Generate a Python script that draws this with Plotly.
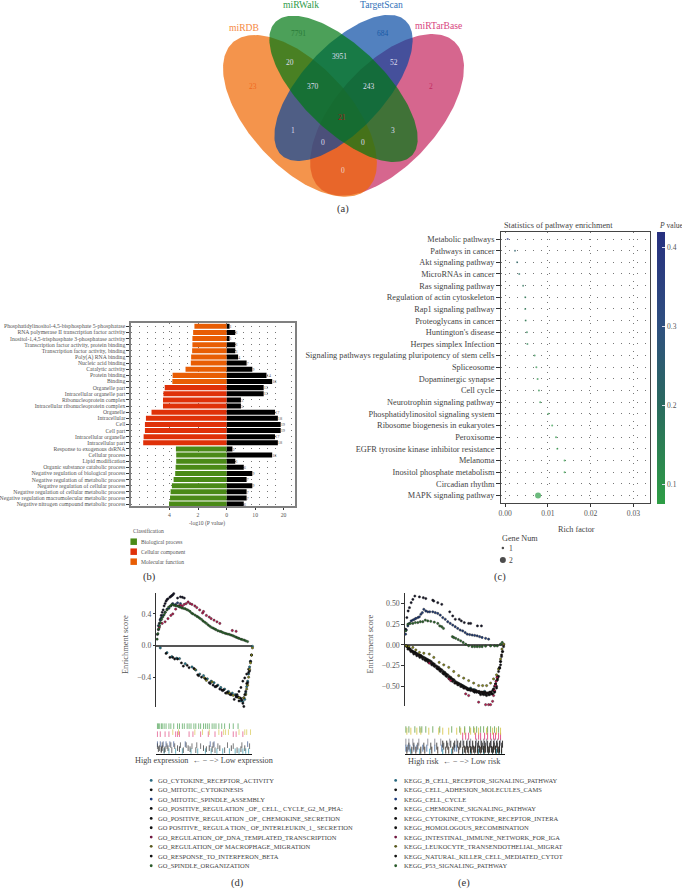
import numpy as np
import plotly.graph_objects as go

W, H = 682, 890
SERIF = "Liberation Serif"

# ---------- (a) Venn ----------
venn_names = ["miRDB", "miRWalk", "TargetScan", "miRTarBase"]
venn_counts = ["23", "7791", "684", "2", "20", "3951", "52", "370", "243", "21", "1", "3", "0", "0", "0"]

# ---------- (b) GO bars ----------
go_terms = [
    "Phosphatidylinositol-4,5-bisphosphate 5-phosphatase", "RNA polymerase II transcription factor activity",
    "Inositol-1,4,5-trisphosphate 3-phosphatase activity", "Transcription factor activity, protein binding",
    "Transcription factor activity, binding", "Poly(A) RNA binding", "Nucleic acid binding", "Catalytic activity",
    "Protein binding", "Binding", "Organelle part", "Intracellular organelle part", "Ribonucleoprotein complex",
    "Intracellular ribonucleoprotein complex", "Organelle", "Intracellular", "Cell", "Cell part",
    "Intracellular organelle", "Intracellular part", "Response to exogenous dsRNA", "Cellular process",
    "Lipid modification", "Organic substance catabolic process", "Negative regulation of biological process",
    "Negative regulation of metabolic process", "Negative regulation of cellular process",
    "Negative regulation of cellular metabolic process", "Negative regulation macromolecular metabolic process",
    "Negative nitrogen compound metabolic process"]
go_class = ["Molecular function"] * 10 + ["Cellular component"] * 10 + ["Biological process"] * 10
go_logp = [2.25, 2.34, 2.39, 2.39, 2.41, 2.48, 2.50, 2.87, 3.77, 3.79,
           4.32, 4.41, 4.44, 4.44, 5.24, 5.63, 5.70, 5.70, 5.79, 5.82,
           3.54, 3.52, 3.52, 3.56, 3.59, 3.70, 3.82, 3.91, 3.95, 4.02]
go_genes = [1, 3, 1, 3, 3, 4, 7, 9, 14, 16, 13, 13, 5, 5, 17, 18, 19, 19, 17, 18, 2, 16, 3, 6, 9, 7, 9, 7, 7, 6]
class_names = ["Biological process", "Cellular component", "Molecular function"]
class_colors = ["#4a8a17", "#df3109", "#e85d04"]

# ---------- (c) KEGG dots ----------
path_terms = ["Metabolic pathways", "Pathways in cancer", "Akt signaling pathway", "MicroRNAs in cancer",
              "Ras signaling pathway", "Regulation of actin cytoskeleton", "Rap1 signaling pathway",
              "Proteoglycans in cancer", "Huntington's disease", "Herpes simplex Infection",
              "Signaling pathways regulating pluripotency of stem cells", "Spliceosome", "Dopaminergic synapse",
              "Cell cycle", "Neurotrophin signaling pathway", "Phosphatidylinositol signaling system",
              "Ribosome biogenesis in eukaryotes", "Peroxisome", "EGFR tyrosine kinase inhibitor resistance",
              "Melanoma", "Inositol phosphate metabolism", "Circadian rhythm", "MAPK signaling pathway"]
path_rich = [0.0006, 0.0023, 0.0028, 0.0033, 0.0042, 0.0047, 0.0047, 0.0048, 0.0051, 0.0052, 0.0069, 0.0073,
             0.0076, 0.0079, 0.0082, 0.0101, 0.0110, 0.0119, 0.0122, 0.0139, 0.0139, None, 0.0077]
path_p = [0.40, 0.24, 0.22, 0.20, 0.18, 0.16, 0.16, 0.15, 0.15, 0.14, 0.12, 0.11, 0.11, 0.11, 0.10, 0.09, 0.09,
          0.09, 0.09, 0.08, 0.08, 0.08, 0.08]
path_genes = [1] * 22 + [2]

# ---------- (d) GSEA GO ----------
d_names = ["GO_CYTOKINE_RECEPTOR_ACTIVITY", "GO_MITOTIC_CYTOKINESIS", "GO_MITOTIC_SPINDLE_ASSEMBLY",
           "GO_POSITIVE_REGULATION _OF_ CELL_ CYCLE_G2_M_PHA:", "GO_POSITIVE_REGULATION _OF_ CHEMOKINE_SECRETION",
           "GO POSITIVE_ REGULA TION_ OF_INTERLEUKIN_1_ SECRETION", "GO_REGULATION_OF_DNA_TEMPLATED_TRANSCRIPTION",
           "GO_REGULATION_OF MACROPHAGE_MIGRATION", "GO_RESPONSE_TO_INTERFERON_BETA", "GO_SPINDLE_ORGANIZATION"]
d_colors = ["#1f7f95", "#141428", "#1d3a78", "#0e0e14", "#101018", "#0c1020", "#c01850", "#8a8a18", "#0c0c0c", "#2a6a2a"]
d_rank = [
    [4, 11, 16, 21, 24, 30, 37, 41, 45, 49, 53, 57, 60, 64, 67, 71, 75, 79, 82, 85, 88, 90, 92, 93, 94, 95, 96, 97, 98, 99, 100],
    [1, 2, 3, 4, 5, 6, 7, 8, 9, 10, 11, 12, 14, 15, 16, 17, 18, 22, 25, 27, 29],
    [2, 4, 5, 7, 9, 11, 13, 15, 17, 20, 22, 25],
    [10, 14, 19, 28, 34, 44, 47, 55, 62, 68, 72, 77, 81, 83, 85, 86, 90, 91],
    [84, 86, 88, 90, 92, 94, 96, 98],
    [56, 59, 61, 66, 69, 73, 76, 78, 87, 89, 91, 93, 95, 97, 99],
    [3, 6, 9, 12, 15, 17, 20, 23, 25, 27, 29, 31, 33, 35, 37, 40, 42, 45, 48, 49, 52, 55, 57, 60, 63, 66, 79, 83],
    [40, 50, 52, 58, 74, 76, 80, 86, 91, 93, 94, 95, 96, 97, 98, 99, 100],
    [17, 22, 26, 32, 39, 43, 51, 63, 70, 74, 83, 88, 92, 94, 96],
    [0.7, 1.5, 2.4, 3.2, 4.1, 5.3, 6.5, 8, 9.2, 11, 12.7, 14.5, 16.1, 18, 19.5, 21, 22.9, 24.5, 26.4, 28, 29.8, 31.5, 33.2, 35, 36.6,
     38, 40.1, 42, 43.5, 45, 46.9, 48.5, 50.3, 52, 53.8, 55.5, 57.2, 59, 60.6, 62, 64, 66, 67.5, 69, 70.9, 72.5, 74.3, 76, 77.7, 79.5,
     81.2, 83, 84.6, 86, 88, 89.5, 91.4, 93, 94.9]]
d_es = [
    [-.03, -.09, -.14, -.16, -.165, -.23, -.27, -.31, -.36, -.38, -.42, -.45, -.47, -.50, -.53, -.55, -.58, -.60, -.62, -.65, -.70, -.71, -.68, -.60, -.52, -.45, -.36, -.27, -.20, -.12, -.01],
    [.14, .20, .28, .33, .38, .42, .45, .50, .53, .56, .58, .59, .61, .62, .63, .64, .655, .60, .615, .61, .60],
    [.25, .32, .35, .38, .42, .46, .47, .50, .53, .52, .54, .53],
    [-.10, -.15, -.17, -.26, -.28, -.38, -.40, -.47, -.52, -.56, -.60, -.62, -.68, -.65, -.65, -.70, -.73, -.77],
    [-.62, -.58, -.53, -.45, -.41, -.36, -.30, -.20],
    [-.48, -.50, -.52, -.55, -.57, -.60, -.61, -.62, -.66, -.69, -.66, -.58, -.47, -.32, -.12],
    [.23, .28, .30, .34, .38, .40, .46, .50, .51, .50, .52, .53, .55, .53, .52, .50, .48, .45, .41, .43, .38, .36, .34, .32, .30, .28, .19, .18],
    [-.30, -.41, -.44, -.46, -.60, -.60, -.63, -.66, -.66, -.62, -.55, -.50, -.40, -.30, -.22, -.12, -.03],
    [-.15, -.17, -.22, -.25, -.29, -.37, -.42, -.51, -.56, -.59, -.63, -.67, -.62, -.48, -.34],
    [.08, .15, .21, .25, .29, .33, .36, .39, .42, .45, .485, .50, .52, .51, .505, .50, .495, .485, .475, .47, .465, .455, .445, .43, .41,
     .40, .385, .37, .36, .345, .33, .31, .295, .28, .26, .245, .23, .22, .21, .20, .187, .18, .175, .165, .157, .15, .145, .14, .132, .125,
     .115, .105, .098, .09, .08, .075, .068, .06, .05]]
d_rug_row = [752, 750, 745, 749, 751, 747, 735, 733, 746, 727]
d_rug_hits = [
    [8, 13, 20, 27, 36, 43, 51, 57, 63, 69, 76, 82, 86, 90, 93, 96],
    [2, 5, 9, 24, 35, 52, 58, 88],
    [1, 4, 7, 10, 14, 18, 30, 56, 60, 95],
    [3, 6, 12, 22, 33, 49, 55, 66, 78, 92],
    [5, 8, 16, 28, 41, 61, 71, 84],
    [1, 11, 19, 37, 46, 64, 80, 97],
    [1, 4, 9, 13, 20, 22, 24, 34, 38, 46, 54, 61, 68, 80, 83, 90],
    [17, 23, 40, 48, 55, 65, 70, 72, 75, 86, 92, 94, 98],
    [6, 15, 25, 31, 42, 59, 74, 89],
    [1, 2, 3, 5, 6, 8, 10, 13, 15, 18, 22, 24, 27, 29, 32, 34, 36, 39, 41, 44, 46, 49, 51, 53, 55, 58, 60, 62, 65, 68, 71, 76, 80, 85]]

# ---------- (e) GSEA KEGG ----------
e_names = ["KEGG_B_CELL_RECEPTOR_SIGNALING_PATHWAY", "KEGG_CELL_ADHESION_MOLECULES_CAMS", "KEGG_CELL_CYCLE",
           "KEGG_CHEMOKINE_SIGNALING_PATHWAY", "KEGG_CYTOKINE_CYTOKINE_RECEPTOR_INTERA", "KEGG_HOMOLOGOUS_RECOMBINATION",
           "KEGG_INTESTINAL_IMMUNE_NETWORK_FOR_IGA", "KEGG_LEUKOCYTE_TRANSENDOTHELIAL_MIGRAT",
           "KEGG_NATURAL_KILLER_CELL_MEDIATED_CYTOT", "KEGG_P53_SIGNALING_PATHWAY"]
e_colors = ["#1f7f95", "#141414", "#1d3a78", "#0e0e14", "#1a1010", "#141428", "#c01850", "#8a8a18", "#0c0c0c", "#2a6a2a"]
e_rank = [
    [39.4, 54, 57.6, 74, 80, 49, 66, 70],
    [1, 2.5, 4, 5.5, 7, 8.5, 10, 11.5, 13, 14.5, 16, 17.5, 19, 20.5, 22, 23.5, 25, 26.5, 28, 29.5, 31, 32.5, 34, 35.5, 37, 38.5, 40, 41.5, 43, 44.5,
     46, 47.5, 49, 50.5, 52, 53.5, 55, 56.5, 58, 59.5, 61, 62.5, 64, 65.5, 67, 68.5, 70, 71.5, 73, 74.5, 76, 77.5, 79, 80.5, 82, 83.5, 85, 86.5, 88, 89, 90, 91, 92, 93, 94, 95, 96, 97, 98, 99],
    [.7, 1.5, 3, 4.5, 6.3, 8, 9.6, 11, 13, 14.5, 16, 17.5, 19, 21, 23, 25, 28, 30.5, 33, 35.5, 38, 40.5, 43, 45.5, 48, 50.5, 53, 55.5, 58, 60.5, 62.6, 65, 67.5, 70, 72.5, 75, 77.5, 81, 84],
    [3, 6, 9, 12, 15, 18, 21, 24, 27, 30, 33, 36, 39, 42, 45, 48, 51, 54, 57, 60, 63, 66, 69, 72, 75, 78, 81, 84, 87, 90, 92, 94, 96],
    [2, 5, 8, 11, 14, 17, 20, 23, 26, 29, 32, 35, 38, 41, 44, 47, 50, 53, 56, 59, 62, 65, 68, 71, 74, 77, 80, 83, 86, 89, 91, 93, 95, 97],
    [.7, 2, 3.3, 4.6, 6.3, 8, 10, 14.6, 18.5, 21, 28, 29, 33, 37, 45, 48, 50.6, 54.6, 56.6, 59.6, 64, 66, 72.8, 76.8],
    [24.5, 44.4, 46, 61, 64, 74, 81, 84, 86, 88, 89, 90, 90.7, 91.5, 92.4],
    [1.3, 4, 8, 11, 14.6, 19, 24.5, 29, 34.4, 39, 44, 49, 54, 59, 64, 69, 74, 78, 82, 86, 89, 92, 94, 96, 97.4, 99.3],
    [4, 7, 10, 16, 22, 28, 34, 40, 46, 52, 58, 64, 70, 76, 79, 82, 85, 88, 90, 92, 93, 95, 96, 98],
    [.7, 3, 5.5, 8, 10.5, 13, 15.5, 18, 20.5, 23, 26, 29.5, 33, 35, 37, 38.7, 47.7, 49, 51, 53.5, 56, 58.5, 61, 64, 67.5, 70, 72.5, 75, 77.5, 81, 86, 90, 92.7, 96, 97.7]]
e_es = [
    [-.35, -.47, -.49, -.57, -.56, -.42, -.52, -.54],
    [-.01, -.02, -.04, -.05, -.07, -.08, -.09, -.10, -.11, -.12, -.13, -.14, -.15, -.16, -.17, -.18, -.19, -.20, -.22, -.23, -.25, -.26, -.27, -.29, -.30, -.32, -.33, -.35, -.36, -.38,
     -.39, -.41, -.42, -.44, -.45, -.46, -.47, -.48, -.49, -.50, -.51, -.52, -.53, -.53, -.54, -.54, -.55, -.55, -.56, -.56, -.57, -.57, -.57, -.57, -.58, -.58, -.57, -.57, -.55, -.54, -.50, -.47, -.43, -.38, -.32, -.27, -.20, -.14, -.08, -.02],
    [.13, .18, .23, .26, .29, .30, .31, .32, .33, .34, .37, .39, .43, .41, .40, .40, .40, .39, .38, .36, .33, .31, .28, .26, .24, .22, .20, .18, .17, .15, .13, .125, .12, .115, .11, .10, .09, .08, .07],
    [-.05, -.08, -.11, -.13, -.15, -.17, -.19, -.21, -.24, -.26, -.29, -.32, -.35, -.38, -.41, -.44, -.46, -.48, -.50, -.52, -.54, -.55, -.56, -.57, -.58, -.59, -.60, -.60, -.59, -.56, -.50, -.38, -.24],
    [-.02, -.06, -.09, -.11, -.13, -.15, -.18, -.20, -.22, -.25, -.28, -.31, -.34, -.37, -.40, -.43, -.46, -.48, -.50, -.52, -.53, -.54, -.55, -.56, -.57, -.57, -.58, -.58, -.57, -.53, -.47, -.40, -.28, -.12],
    [.19, .33, .41, .45, .51, .55, .59, .58, .57, .56, .54, .53, .51, .49, .40, .35, .31, .31, .29, .27, .26, .26, .23, .23],
    [-.22, -.41, -.43, -.59, -.61, -.69, -.72, -.72, -.72, -.68, -.61, -.55, -.49, -.44, -.39],
    [-.01, -.02, -.03, -.06, -.09, -.10, -.11, -.15, -.21, -.24, -.27, -.32, -.37, -.40, -.43, -.46, -.49, -.49, -.49, -.46, -.41, -.36, -.29, -.17, -.05, .01],
    [-.04, -.07, -.09, -.13, -.18, -.23, -.29, -.34, -.40, -.46, -.50, -.54, -.57, -.60, -.60, -.61, -.60, -.59, -.57, -.52, -.42, -.28, -.20, -.08],
    [.17, .25, .26, .26, .27, .27, .28, .28, .30, .29, .285, .275, .26, .23, .22, .20, .10, .09, .08, .065, .05, .03, .01, -.01, -.02, -.02, -.02, -.02, -.02, -.015, -.012, -.012, -.012, .01, .03]]
e_rug_row = [753, 750, 749, 745, 751, 743, 737, 732, 747, 730]
e_rug_hits = [
    [6, 15, 25, 38, 47, 58, 66, 74, 79, 84, 88, 92, 95, 97],
    [60, 63, 66, 69, 71, 73, 75, 77, 79, 81, 83, 85, 87, 89, 91, 93, 95, 97],
    [1, 3, 5, 9, 12, 18, 22, 30, 37, 50, 52],
    [38, 42, 46, 50, 53, 56, 59, 62, 65, 68, 71, 74, 77, 80, 83, 86, 89, 92, 95, 98],
    [2, 7, 11, 16, 20, 27, 33, 41, 44, 48, 54, 58, 61, 64, 67, 70, 73, 76, 80, 84, 88, 91, 94, 97],
    [1, 4, 8, 14, 23, 30, 36, 45, 52, 58, 63, 66, 72, 76, 79, 82, 87, 90, 93, 96],
    [58, 61, 64, 71, 74, 76, 80, 83, 86, 89, 91, 94, 96],
    [2, 6, 12, 16, 24, 34, 38, 44, 52, 56, 60, 66, 70, 74, 82, 88, 92, 96],
    [4, 9, 13, 19, 26, 32, 39, 43, 49, 55, 62, 68, 73, 78, 81, 85, 90, 93, 97],
    [1, 4, 10, 15, 17, 21, 28, 35, 47, 55, 60, 65, 69, 72, 76, 79, 83, 86, 90, 94]]

# ---------- layout helpers (pixel geometry of the page) ----------
def fx(a, b): return [a / W, b / W]
def fy(top, bottom): return [1 - bottom / H, 1 - top / H]

def ellipse(cx, cy, a, b, deg):
    t = np.linspace(0, 2 * np.pi, 200)
    th = np.radians(deg)
    return cx + a * np.cos(t) * np.cos(th) - b * np.sin(t) * np.sin(th), cy + a * np.cos(t) * np.sin(th) + b * np.sin(t) * np.cos(th)

fig = go.Figure()
annos = []
def txt(x, y, s, size=8, color="#444", anchor="center", angle=0):
    annos.append(dict(x=x, y=y, xref="x", yref="y", text=s, showarrow=False, xanchor=anchor, yanchor="middle",
                      font=dict(family=SERIF, size=size, color=color), textangle=angle))

# ---- Venn on page axes (drawn pink, orange, blue, green)
venn_shape = [("rgba(207,75,122,0.85)", 384, 115, 100, 51, -47),
              ("rgba(240,102,0,0.70)", 296, 116, 100, 51, 47),
              ("rgba(0,70,160,0.68)", 340, 88, 92, 42, -47),
              ("rgba(0,119,19,0.70)", 340, 89, 96, 42, 44)]
for col, cx, cy, a, b, deg in venn_shape:
    ex, ey = ellipse(cx, cy, a, b, deg)
    fig.add_trace(go.Scatter(x=ex, y=ey, mode="lines", fill="toself", fillcolor=col, line=dict(width=0), hoverinfo="skip"))

for name, x, y, c in zip(venn_names, [239, 297, 378, 436], [28, 4, 4, 26], ["#f5893f", "#2f9a48", "#3070b8", "#d8447e"]):
    txt(x, y, name, 9.6, c)
count_pos = [(249, 87, "#f06a20"), (295, 34, "#2a7a38"), (380, 34, "#1a5aa5"), (428, 87, "#c22b62"), (286, 63, "#dde"),
             (336, 57, "#dde"), (391, 63, "#dde"), (309, 87, "#dde"), (366, 87, "#dde"), (338, 118, "#a81c1c"),
             (289, 131, "#dde"), (390, 131, "#dde"), (319, 143, "#dde"), (360, 143, "#dde"), (339, 171, "#f2d8c8")]
for s, (x, y, c) in zip(venn_counts, count_pos):
    txt(x, y, s, 7.5, c)
for s, x, y in [("(a)", 339, 209), ("(b)", 144, 578), ("(c)", 498, 578), ("(d)", 233, 884), ("(e)", 462, 884)]:
    txt(x, y, s, 10.5, "#333")

# ---- (b) bars
for cn, cc in zip(class_names, class_colors):
    idx = [i for i, c in enumerate(go_class) if c == cn]
    fig.add_trace(go.Bar(x=[go_logp[i] for i in idx], y=[go_terms[i] for i in idx], orientation="h", marker=dict(color=cc, line=dict(width=0)),
                         width=0.82, xaxis="x2", yaxis="y2"))
fig.add_trace(go.Bar(x=go_genes, y=go_terms, orientation="h", marker=dict(color="#000", line=dict(width=0)), width=0.82,
                     text=go_genes, textposition="outside", cliponaxis=False, textfont=dict(family=SERIF, size=5.2, color="#555"),
                     xaxis="x3", yaxis="y2"))
txt(202, 524.5, "-log10 (P value)", 5.6, "#555")
txt(125, 532, "Classification", 5.6, "#555", "left")
legy = [542.3, 552.3, 562.3]
fig.add_trace(go.Scatter(x=[128] * 3, y=legy, mode="markers", marker=dict(symbol="square", size=6.5, color=class_colors, line=dict(width=0))))
for n, y in zip(class_names, legy):
    txt(133, y, n, 5.6, "#555", "left")

# ---- (c) dots
stops = [[0, "#2e9e45"], [0.36, "#2a6a5e"], [0.66, "#2f4f80"], [1, "#27307f"]]
fig.add_trace(go.Scatter(x=path_rich, y=path_terms, mode="markers", xaxis="x4", yaxis="y4",
                         marker=dict(size=[2 if g == 1 else 6 for g in path_genes], color=path_p, colorscale=stops, cmin=0.075, cmax=0.42,
                                     line=dict(width=0),
                                     colorbar=dict(x=657 / W, xanchor="left", xpad=0, y=1 - 232 / H, yanchor="top", ypad=0, lenmode="pixels", len=272,
                                                   thickness=8, outlinewidth=0, tickvals=[0.1, 0.2, 0.3, 0.4], ticks="inside", ticklen=3, tickcolor="#dde",
                                                   tickfont=dict(family=SERIF, size=7.5, color="#555")))))
txt(500, 226, "Statistics of pathway enrichment", 8.3, "#444", "left")
annos.append(dict(x=657, y=226, xref="x", yref="y", text="<i>P</i> value", showarrow=False, xanchor="left", yanchor="middle",
                  font=dict(family=SERIF, size=7.6, color="#444")))
txt(575, 530, "Rich factor", 8.2, "#444")
txt(498, 539, "Gene Num", 8.2, "#444", "left")
fig.add_trace(go.Scatter(x=[501, 501], y=[548.7, 560.7], mode="markers", marker=dict(color="#000", size=[2.5, 6], line=dict(width=0))))
txt(505, 548.7, "1", 7.6, "#444", "left")
txt(505.5, 560.7, "2", 7.6, "#444", "left")

# ---- (d),(e) enrichment curves and rugs
def curves(ranks, es, colors, xa, ya, size):
    for r, v, c in zip(ranks, es, colors):
        fig.add_trace(go.Scatter(x=r, y=v, mode="markers", xaxis=xa, yaxis=ya, cliponaxis=False,
                                 marker=dict(size=size, color=c, line=dict(width=0.4, color="#111"))))
def rugs(hits, rows, colors, xa, ya, size, width):
    for h, r, c in zip(hits, rows, colors):
        fig.add_trace(go.Scatter(x=h, y=[r] * len(h), mode="markers", xaxis=xa, yaxis=ya,
                                 marker=dict(symbol="line-ns", size=size, line=dict(width=width, color=c))))

curves(d_rank, d_es, d_colors, "x5", "y5", 2.3)
rugs(d_rug_hits, d_rug_row, ["#2a8fa5", "#222", "#33508a", "#222", "#333", "#444", "#e04880", "#d8c850", "#444", "#4aa050"], "x6", "y6", 4, 0.7)
curves(e_rank, e_es, e_colors, "x7", "y7", 2.3)
rugs(e_rug_hits, e_rug_row, ["#2a8fa5", "#111", "#4a70a5", "#222", "#3a2a20", "#8a8a95", "#e04880", "#d8c850", "#444", "#70a860"], "x8", "y8", 5, 0.9)

txt(120, 645, "Enrichment score", 8.4, "#555", angle=-90)
txt(367, 645, "Enrichment score", 8.4, "#555", angle=-90)
txt(199.5, 761, "High expression  \u2190 \u2212 \u2212> Low expression", 8.2, "#444")
txt(452, 762, "High risk  \u2190 \u2212 \u2212> Low risk", 8.2, "#444")

list_y = [781.3, 790.7, 800, 809.3, 819.3, 828.7, 838, 847.3, 857, 866.7]
list_dot_d = ["#2a6a80", "#111", "#1d3a78", "#111", "#111", "#111", "#701840", "#5a5a20", "#111", "#2a5a2a"]
fig.add_trace(go.Scatter(x=[145.7] * 10, y=list_y, mode="markers", marker=dict(size=2.8, color=list_dot_d, line=dict(width=0))))
fig.add_trace(go.Scatter(x=[392.7] * 10, y=list_y, mode="markers", marker=dict(size=2.8, color=list_dot_d, line=dict(width=0))))
for n, y in zip(d_names, list_y):
    txt(150.7, y, n, 6.5, "#444", "left")
for n, y in zip(e_names, list_y):
    txt(398.7, y, n, 6.5, "#444", "left")

hidden = dict(visible=False, showgrid=False, zeroline=False)
grid_b = dict(showgrid=True, griddash="1px,7px", gridcolor="#777", gridwidth=1)
line_b = dict(showline=True, linecolor="#808080", linewidth=1.5, mirror=True, ticks="outside", ticklen=2.5, tickcolor="#333", tickwidth=1,
              tickfont=dict(family=SERIF, size=5.7, color="#555"), zeroline=False)
fig.update_layout(
    width=W, height=H, margin=dict(l=0, r=0, t=0, b=0), paper_bgcolor="white", plot_bgcolor="rgba(0,0,0,0)",
    showlegend=False, barmode="overlay", annotations=annos, hovermode=False,
    xaxis=dict(domain=[0, 1], range=[0, W], **hidden), yaxis=dict(domain=[0, 1], range=[H, 0], **hidden),
    xaxis2=dict(domain=fx(125, 291), range=[6.69, -4.76], anchor="y2", tickvals=[4, 2, 0], **line_b, **grid_b),
    xaxis3=dict(domain=fx(125, 291), range=[-33.8, 24.04], anchor="y2", overlaying="x2", side="bottom", tickvals=[10, 20], **line_b),
    yaxis2=dict(domain=fy(323.5, 506.7), range=[29.33, -0.52], anchor="x2", type="category", categoryorder="array", categoryarray=go_terms,
                tickmode="array", tickvals=go_terms, **line_b, **grid_b),
    xaxis4=dict(domain=fx(499.3, 650), range=[-0.00093, 0.03396], anchor="y4", tickvals=[0, 0.01, 0.02, 0.03], tickformat=".2f",
                showline=True, linecolor="#444", linewidth=1.2, mirror=True, ticks="outside", ticklen=3, tickcolor="#333",
                tickfont=dict(family=SERIF, size=7.6, color="#555"), zeroline=False, showgrid=True, griddash="1px,6px", gridcolor="#777"),
    yaxis4=dict(domain=fy(232, 503.7), range=[22 + 7.7 / 11.67, -7.3 / 11.67], anchor="x4", type="category", categoryorder="array", categoryarray=path_terms,
                tickmode="array", tickvals=path_terms, showline=True, linecolor="#444", linewidth=1.2, mirror=True, ticks="outside", ticklen=4, tickcolor="#333",
                tickfont=dict(family=SERIF, size=8.3, color="#444"), zeroline=False, showgrid=True, griddash="1px,7px", gridcolor="#777"),
    xaxis5=dict(domain=fx(151, 248), range=[0, 100], anchor="y5", visible=False),
    yaxis5=dict(domain=fy(593.5, 707.3), range=[-0.77, 0.666], anchor="x5", tickvals=[-0.4, 0, 0.4], ticktext=["\u22120.4", "0.0", "0.4"],
                showline=True, linecolor="#333", linewidth=1.2, ticks="outside", ticklen=2.5, tickcolor="#333", showgrid=False,
                zeroline=True, zerolinecolor="#555", zerolinewidth=1.6, tickfont=dict(family=SERIF, size=7.8, color="#555")),
    xaxis6=dict(domain=fx(151, 248), range=[0, 100], anchor="y6", showline=True, linecolor="#111", linewidth=1.4, showticklabels=False,
                ticks="", showgrid=False, zeroline=False, side="bottom"),
    yaxis6=dict(domain=fy(722, 754.5), range=[754.5, 722], anchor="x6", **hidden),
    xaxis7=dict(domain=fx(402, 502.7), range=[0, 100], anchor="y7", visible=False),
    yaxis7=dict(domain=fy(594, 706.7), range=[-0.735, 0.623], anchor="x7", tickvals=[-0.5, -0.25, 0, 0.25, 0.5],
                ticktext=["\u22120.50", "\u22120.25", "0.00", "0.25", "0.50"], showline=True, linecolor="#333", linewidth=1.2, ticks="outside", ticklen=2.5,
                tickcolor="#333", showgrid=False, zeroline=True, zerolinecolor="#555", zerolinewidth=1.6, tickfont=dict(family=SERIF, size=7.8, color="#555")),
    xaxis8=dict(domain=fx(402, 502.7), range=[0, 100], anchor="y8", showline=True, linecolor="#111", linewidth=1.4, showticklabels=False,
                ticks="", showgrid=False, zeroline=False, side="bottom"),
    yaxis8=dict(domain=fy(727, 755), range=[755, 727], anchor="x8", **hidden),
)
fig.write_html("out.html", config=dict(displayModeBar=False),
               post_script="document.body.style.margin='0';document.documentElement.style.overflow='hidden';")
